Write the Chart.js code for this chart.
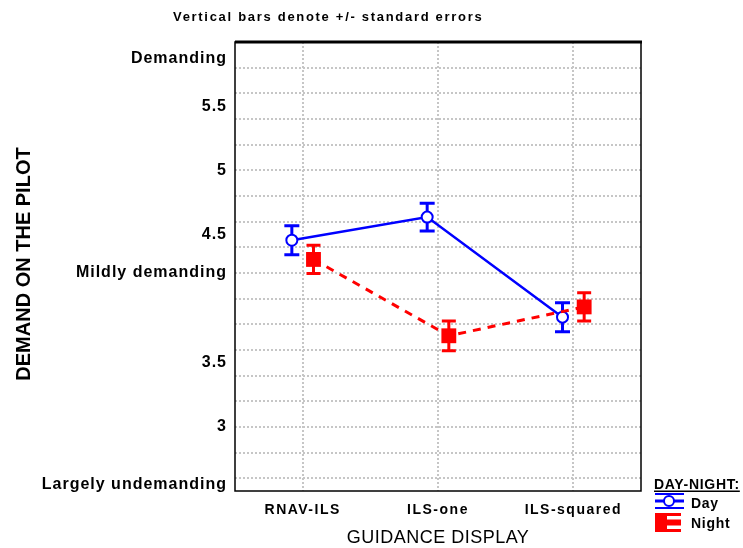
<!DOCTYPE html>
<html><head><meta charset="utf-8">
<script src="https://cdn.jsdelivr.net/npm/chart.js@4/dist/chart.umd.min.js"></script>
<style>html,body{margin:0;padding:0;background:#fff;overflow:hidden}#wrap{width:743px;height:548px;position:relative}</style>
</head><body><div id="wrap"><canvas id="c" width="743" height="548"></canvas></div>
<script>
// ---- data ----
const categories = ['RNAV-ILS', 'ILS-one', 'ILS-squared'];
const seriesNames = ['Day', 'Night'];
const dayMeans = [4.455, 4.635, 3.855];
const daySE = [0.113, 0.108, 0.113];
const nightMeans = [4.305, 3.71, 3.935];
const nightSE = [0.11, 0.116, 0.11];
const yTickValues = [2.55, 3, 3.5, 4.2, 4.5, 5, 5.5, 5.87];
const yTickLabels = ['Largely undemanding', '3', '3.5', 'Mildly demanding', '4.5', '5', '5.5', 'Demanding'];
const yGridValues = [2.6, 2.8, 3.0, 3.2, 3.4, 3.6, 3.8, 4.0, 4.2, 4.4, 4.6, 4.8, 5.0, 5.2, 5.4, 5.6, 5.8];
const chartTitle = 'Vertical bars denote +/- standard errors';
const xTitle = 'GUIDANCE DISPLAY';
const yTitle = 'DEMAND ON THE PILOT';
const legendTitle = 'DAY-NIGHT:';

// ---- style ----
const BLUE = '#0000ff', RED = '#ff0000';
const OFFSET = 0.08;           // horizontal dodge of the two series
const GRID = '#c6c6c6';
const FONT = "'Liberation Sans', Arial, sans-serif";

function withSpacing(ctx, sp, fn) {
  ctx.save();
  try { ctx.letterSpacing = sp; } catch (e) {}
  fn();
  ctx.restore();
}

const spacingPlugin = {
  id: 'spacing',
  afterUpdate(chart) {
    [['x', '1.5px'], ['y', '1px']].forEach(([id, sp]) => {
      const s = chart.scales[id];
      if (s && !s._wrappedLabels) {
        const orig = s.drawLabels;
        s.drawLabels = function (a) { withSpacing(this.ctx, sp, () => orig.call(this, a)); };
        s._wrappedLabels = true;
      }
    });
  }
};

const errorBars = {
  id: 'errorBars',
  beforeDatasetsDraw(chart) {
    const ctx = chart.ctx, ys = chart.scales.y;
    chart.data.datasets.forEach((ds, di) => {
      const meta = chart.getDatasetMeta(di);
      ctx.save();
      ctx.strokeStyle = ds.borderColor;
      meta.data.forEach((pt, i) => {
        const m = ds.data[i].y, se = ds.se[i];
        const yt = ys.getPixelForValue(m + se), yb = ys.getPixelForValue(m - se);
        const x = pt.x, hw = ds.capHalf;
        ctx.lineWidth = ds.barWidth;
        ctx.beginPath(); ctx.moveTo(x, yt); ctx.lineTo(x, yb); ctx.stroke();
        ctx.lineWidth = ds.capWidth;
        ctx.beginPath();
        ctx.moveTo(x - hw, yt); ctx.lineTo(x + hw, yt);
        ctx.moveTo(x - hw, yb); ctx.lineTo(x + hw, yb);
        ctx.stroke();
      });
      ctx.restore();
    });
  }
};

const decor = {
  id: 'decor',
  afterDraw(chart) {
    const ctx = chart.ctx, a = chart.chartArea;
    ctx.save();
    // frame
    ctx.strokeStyle = '#000';
    ctx.lineWidth = 1.5;
    ctx.strokeRect(a.left, a.top, a.right - a.left, a.bottom - a.top);
    ctx.lineWidth = 3;
    ctx.beginPath(); ctx.moveTo(a.left, a.top); ctx.lineTo(a.right + 1, a.top); ctx.stroke();

    ctx.fillStyle = '#000';
    // chart title
    withSpacing(ctx, '1.7px', () => {
      ctx.font = 'bold 13px ' + FONT;
      ctx.textAlign = 'left'; ctx.textBaseline = 'alphabetic';
      ctx.fillText(chartTitle, 173, 21);
    });
    // x title
    withSpacing(ctx, '0.5px', () => {
      ctx.font = '18px ' + FONT;
      ctx.textAlign = 'center'; ctx.textBaseline = 'alphabetic';
      ctx.fillText(xTitle, (a.left + a.right) / 2, 543);
    });
    // y title
    ctx.save();
    ctx.translate(23, 264);
    ctx.rotate(-Math.PI / 2);
    ctx.font = 'bold 20px ' + FONT;
    ctx.textAlign = 'center'; ctx.textBaseline = 'middle';
    ctx.fillText(yTitle, 0, 1);
    ctx.restore();

    // legend
    withSpacing(ctx, '0.7px', () => {
      ctx.font = 'bold 14px ' + FONT;
      ctx.textAlign = 'left'; ctx.textBaseline = 'alphabetic';
      ctx.fillText(legendTitle, 654, 489);
      const w = ctx.measureText(legendTitle).width;
      ctx.fillRect(654, 490.5, Math.min(w, 88), 1.5);
      const dsDay = chart.data.datasets[0], dsNight = chart.data.datasets[1];
      ctx.fillText(dsDay.label, 691, 508);
      ctx.fillText(dsNight.label, 691, 528);
      // Day icon
      ctx.strokeStyle = dsDay.borderColor;
      ctx.lineWidth = 2;
      ctx.beginPath();
      ctx.moveTo(655, 494); ctx.lineTo(684, 494);
      ctx.moveTo(655, 508); ctx.lineTo(684, 508);
      ctx.stroke();
      ctx.lineWidth = 3;
      ctx.beginPath(); ctx.moveTo(655, 501); ctx.lineTo(684, 501); ctx.stroke();
      ctx.fillStyle = '#fff';
      ctx.lineWidth = 2;
      ctx.beginPath(); ctx.arc(669, 501, 5, 0, Math.PI * 2); ctx.fill(); ctx.stroke();
      // Night icon
      ctx.fillStyle = dsNight.borderColor;
      ctx.fillRect(655, 513, 12, 19);
      ctx.fillRect(655, 513, 26, 3);
      ctx.fillRect(655, 519.5, 26, 6);
      ctx.fillRect(655, 529, 26, 3);
    });
    ctx.restore();
  }
};

const dayData = dayMeans.map((v, i) => ({ x: i - OFFSET, y: v }));
const nightData = nightMeans.map((v, i) => ({ x: i + OFFSET, y: v }));

new Chart(document.getElementById('c'), {
  type: 'line',
  data: {
    datasets: [
      {
        label: seriesNames[0], data: dayData, se: daySE,
        borderColor: BLUE, borderWidth: 2.5, tension: 0, fill: false,
        pointStyle: 'circle', pointRadius: 5.5, pointHoverRadius: 5.5,
        pointBorderWidth: 2, pointBackgroundColor: '#ffffff', pointBorderColor: BLUE,
        barWidth: 3, capWidth: 3, capHalf: 7.5, order: 1
      },
      {
        label: seriesNames[1], data: nightData, se: nightSE,
        borderColor: RED, borderWidth: 3, borderDash: [8, 7], tension: 0, fill: false,
        pointStyle: 'rect', pointRadius: 10.5, pointHoverRadius: 10.5,
        pointBorderWidth: 0, pointBackgroundColor: RED, pointBorderColor: RED,
        barWidth: 3, capWidth: 3, capHalf: 7, order: 0
      }
    ]
  },
  options: {
    responsive: false,
    animation: false,
    devicePixelRatio: 1,
    layout: { padding: { top: 42, right: 102, left: 0, bottom: 0 } },
    plugins: { legend: { display: false }, tooltip: { enabled: false }, title: { display: false } },
    scales: {
      x: {
        type: 'linear', min: -0.5, max: 2.5,
        afterBuildTicks: s => { s.ticks = categories.map((c, i) => ({ value: i })); },
        afterFit: s => { s.height = 57; },
        ticks: {
          callback: v => categories[v], color: '#000', padding: 11,
          font: { family: FONT, size: 14, weight: 'bold' }, maxRotation: 0, autoSkip: false
        },
        grid: { color: GRID, lineWidth: 2, drawTicks: false },
        border: { display: false, dash: [2, 2] }
      },
      y: {
        type: 'linear', position: 'left', min: 2.5, max: 6,
        afterBuildTicks: s => { s.ticks = yTickValues.map(v => ({ value: v })); },
        afterFit: s => { s.width = 235; },
        ticks: {
          callback: v => yTickLabels[yTickValues.indexOf(v)], color: '#000', padding: 8,
          font: { family: FONT, size: 16, weight: 'bold' }, autoSkip: false
        },
        grid: { display: false, drawTicks: false },
        border: { display: false }
      },
      yg: {
        type: 'linear', position: 'right', min: 2.5, max: 6,
        afterBuildTicks: s => { s.ticks = yGridValues.map(v => ({ value: v })); },
        afterFit: s => { s.width = 0; },
        ticks: { display: false },
        grid: { color: GRID, lineWidth: 2, drawTicks: false },
        border: { display: false, dash: [2, 2] }
      }
    }
  },
  plugins: [spacingPlugin, errorBars, decor]
});
</script>
</body></html>
